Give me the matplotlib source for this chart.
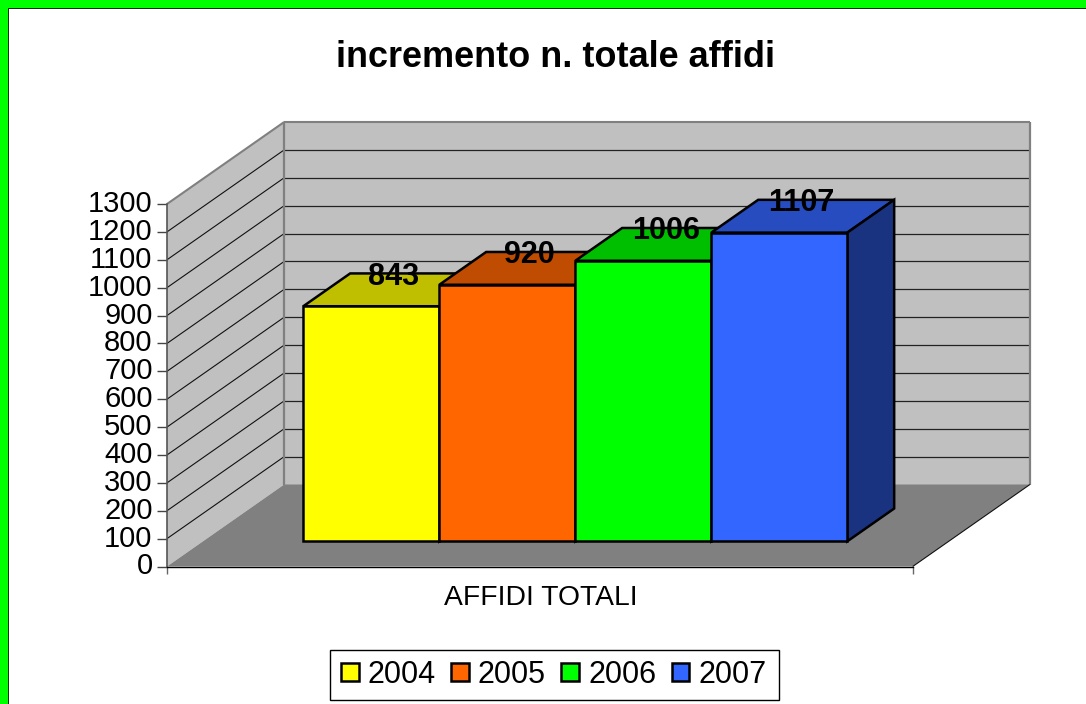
import matplotlib
matplotlib.use("Agg")
import matplotlib.pyplot as plt
from matplotlib.patches import Polygon, Rectangle, Patch
from matplotlib.transforms import ScaledTranslation

plt.rcParams['font.family'] = ['Liberation Sans', 'DejaVu Sans']

years = ['2004', '2005', '2006', '2007']
values = [843, 920, 1006, 1107]
front_colors = ['#FFFF00', '#FF6600', '#00FF00', '#3366FF']
top_colors = ['#BFBF00', '#BF4C00', '#00BF00', '#264CBF']
side_colors = ['#808000', '#803300', '#008000', '#1A3380']
yticks = list(range(0, 1301, 100))
category = 'AFFIDI TOTALI'
title = 'incremento n. totale affidi'

W, H = 1086, 704
L, R, T, B = 167.0, 912.7, 204.0, 566.5
fig = plt.figure(figsize=(W / 100, H / 100), dpi=100, facecolor='white')
ax = fig.add_axes([L / W, 1 - B / H, (R - L) / W, (B - T) / H])
ax.set_xlim(0, 1)
ax.set_ylim(0, 1300)
ax.patch.set_visible(False)

# depth of the box, in data units
DX = 117.2 / (R - L)
DY = 82.0 / (B - T) * 1300


def P(x, v, d=0.0):
    return (x + d * DX, v + d * DY)


def poly(pts, fc, ec='none', lw=0, z=1):
    ax.add_patch(Polygon(pts, closed=True, facecolor=fc, edgecolor=ec, linewidth=lw,
                         zorder=z, clip_on=False, joinstyle='miter'))


def line(a, b, c, lw, z=2):
    ax.plot([a[0], b[0]], [a[1], b[1]], color=c, lw=lw, zorder=z, clip_on=False,
            solid_capstyle='butt', scalex=False, scaley=False)


# walls and floor
poly([P(0, 0, 1), P(0, 1300, 1), P(1, 1300, 1), P(1, 0, 1)], '#C0C0C0')
poly([P(0, 0, 0), P(0, 1300, 0), P(0, 1300, 1), P(0, 0, 1)], '#C0C0C0')
poly([P(0, 0, 0), P(0, 0, 1), P(1, 0, 1), P(1, 0, 0)], '#808080')

for v in yticks[1:-1]:
    line(P(0, v, 0), P(0, v, 1), '#111111', 0.8)
    line(P(0, v, 1), P(1, v, 1), '#222222', 0.9)

line(P(0, 1300, 0), P(0, 1300, 1), '#808080', 1.5, 3)
line(P(0, 1300, 1), P(1, 1300, 1), '#808080', 1.5, 3)
line(P(0, 0, 1), P(0, 1300, 1), '#808080', 1.6, 3)
line(P(1, 0, 1), P(1, 1300, 1), '#808080', 1.6, 3)
line(P(1, 0, 0), P(1, 0, 1), '#111111', 0.8, 3)

# bars
bar_w = 136.0 / (R - L)
bd0 = 25.2 / 82.0
bd1 = bd0 + 32.8 / 82.0
bar_x0 = (303.3 - L) / (R - L) - bd0 * DX
label_nudge = ScaledTranslation(-1 / 100, -3.5 / 100, fig.dpi_scale_trans)
for i, (val, fc, tc, sc) in enumerate(zip(values, front_colors, top_colors, side_colors)):
    x0 = bar_x0 + i * bar_w
    x1 = x0 + bar_w
    z = 5 + i
    poly([P(x0, val, bd0), P(x0, val, bd1), P(x1, val, bd1), P(x1, val, bd0)], tc, 'black', 1.8, z)
    poly([P(x1, 0, bd0), P(x1, val, bd0), P(x1, val, bd1), P(x1, 0, bd1)], sc, 'black', 1.8, z)
    a = P(x0, 0, bd0)
    b = P(x1, val, bd0)
    ax.add_patch(Rectangle(a, b[0] - a[0], b[1] - a[1], facecolor=fc, edgecolor='black',
                           linewidth=1.8, zorder=z, clip_on=False, joinstyle='miter'))
    lx = P((x0 + x1) / 2, val, (bd0 + bd1) / 2)[0]
    ly = P(x0, val, bd1)[1]
    ax.text(lx, ly, str(val), ha='center', va='center', fontsize=22, fontweight='bold',
            color='black', zorder=20, clip_on=False, transform=ax.transData + label_nudge)

# axes
for s in ('top', 'right'):
    ax.spines[s].set_visible(False)
ax.spines['left'].set_color('#555555')
ax.spines['left'].set_linewidth(1.2)
ax.spines['left'].set_zorder(4)
ax.spines['bottom'].set_color('black')
ax.spines['bottom'].set_linewidth(1.0)
ax.spines['bottom'].set_zorder(4)
ax.set_yticks(yticks)
ax.set_yticklabels([str(v) for v in yticks], fontsize=21)
ax.tick_params(axis='y', length=7.2, width=1.0, color='#444444', pad=3.2)
shift = ScaledTranslation(0, 3 / 100, fig.dpi_scale_trans)
for lab in ax.get_yticklabels():
    lab.set_transform(lab.get_transform() + shift)
ax.set_xticks([0, 1])
ax.set_xticklabels(['', ''])
ax.tick_params(axis='x', which='major', length=5, width=1.0, color='#666666')
ax.set_xticks([0.5015], minor=True)
ax.set_xticklabels([category], minor=True, fontsize=20.3)
ax.tick_params(axis='x', which='minor', length=0, pad=13.5)

fig.text(555 / W, 1 - 57.5 / H, title, ha='center', va='center', fontsize=25.9, fontweight='bold')

# legend
fig.add_artist(Rectangle((330 / W, 1 - 700 / H), 448.7 / W, 50 / H, transform=fig.transFigure,
                         facecolor='white', edgecolor='black', linewidth=1.0, zorder=1))
handles = [Patch(facecolor=c, edgecolor='black', linewidth=1.8, label=y)
           for c, y in zip(front_colors, years)]
leg = fig.legend(handles=handles, ncol=4, loc='center', bbox_to_anchor=(553.7 / W, 1 - 675 / H),
                 fontsize=22, frameon=False, handlelength=0.58, handleheight=0.55, handletextpad=0.3,
                 columnspacing=0.5, borderpad=0.33, borderaxespad=0)
leg.set_zorder(2)

# slide border
for (x, y, w, h, c) in [(0, 0, 8, H, '#00FF00'), (0, 0, W, 8, '#00FF00'),
                        (8, 8, 1.2, H, '#1A2A1A'), (8, 8, W, 1.2, '#1A2A1A')]:
    fig.add_artist(Rectangle((x / W, 1 - (y + h) / H), w / W, h / H, transform=fig.transFigure,
                             facecolor=c, edgecolor='none', zorder=30))

fig.savefig('out.png', dpi=100)
